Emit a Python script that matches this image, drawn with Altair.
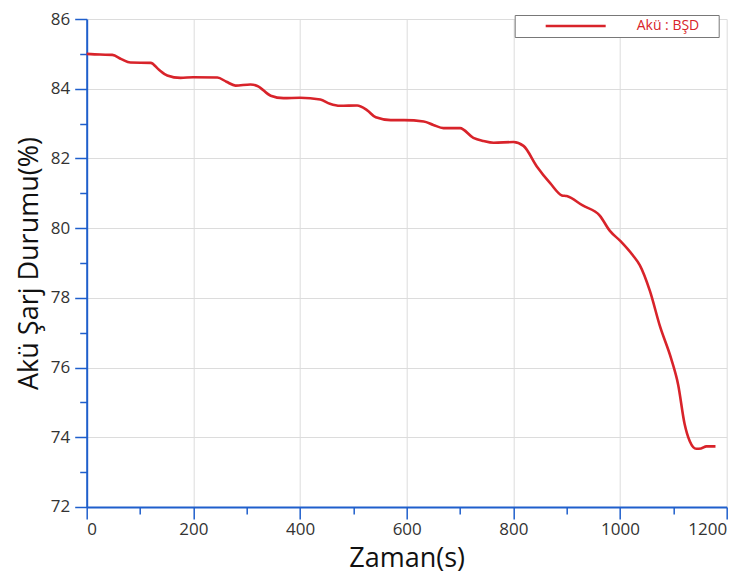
import altair as alt
import pandas as pd

# Time (s) and battery state of charge (%)
time_s = [0, 25, 48, 65, 82, 120, 135, 151, 176, 200, 245, 262, 279, 307, 320,
          345, 369, 400, 438, 456, 475, 507, 526, 542, 570, 595, 632, 650, 669,
          700, 725, 744, 763, 800, 819, 844, 869, 891, 900, 930, 962, 981, 1000,
          1024, 1037, 1056, 1075, 1096, 1109, 1121, 1131, 1143, 1152, 1162, 1179]
soc = [85.0, 84.98, 84.97, 84.85, 84.75, 84.74, 84.55, 84.38, 84.31, 84.33,
       84.32, 84.2, 84.09, 84.12, 84.08, 83.8, 83.73, 83.74, 83.69, 83.57,
       83.51, 83.52, 83.38, 83.18, 83.10, 83.10, 83.06, 82.96, 82.87, 82.87,
       82.59, 82.50, 82.45, 82.47, 82.36, 81.77, 81.29, 80.94, 80.92, 80.65,
       80.36, 79.92, 79.64, 79.22, 78.94, 78.2, 77.18, 76.25, 75.51, 74.39,
       73.88, 73.67, 73.68, 73.74, 73.74]
series_name = "Akü : BŞD"

x_ticks = list(range(0, 1201, 100))
y_ticks = list(range(72, 87))

df = pd.DataFrame({"t": time_s, "soc": soc, "series": [series_name] * len(time_s)})

AXIS_BLUE = "#1f5fcc"
GRID = "#dcdcdc"
RED = "#d8232a"

x_axis = alt.Axis(
    title="Zaman(s)",
    values=x_ticks,
    format="d",
    labelExpr="datum.value % 200 === 0 ? datum.label : ''",
    tickSize={"condition": {"test": "datum.value % 200 === 0", "value": 12}, "value": 7},
    gridOpacity={"condition": {"test": "datum.value % 200 === 0", "value": 1}, "value": 0},
    labelPadding=3,
    titlePadding=8,
)
y_axis = alt.Axis(
    title="Akü Şarj Durumu(%)",
    values=y_ticks,
    format="d",
    labelExpr="datum.value % 2 === 0 ? datum.label : ''",
    tickSize={"condition": {"test": "datum.value % 2 === 0", "value": 12}, "value": 7},
    gridOpacity={"condition": {"test": "datum.value % 2 === 0", "value": 1}, "value": 0},
    labelPadding=5,
    titlePadding=7,
)

chart = alt.Chart(df).mark_line(strokeWidth=2.6, interpolate="monotone").encode(
    x=alt.X("t:Q", scale=alt.Scale(domain=[0, 1200], nice=False, zero=False), axis=x_axis),
    y=alt.Y("soc:Q", scale=alt.Scale(domain=[72, 86], nice=False, zero=False), axis=y_axis),
    color=alt.Color(
        "series:N",
        scale=alt.Scale(range=[RED]),
        legend=alt.Legend(
            title=None,
            orient="none",
            legendX=428,
            legendY=-4,
            symbolType="M-6,0H6",
            symbolSize=100,
            symbolStrokeWidth=2.5,
            symbolOffset=50,
            labelOffset=54,
            labelFontSize=14,
            labelColor=RED,
            labelExpr="datum.label + '" + "\u00a0" * 4 + "\u200b'",
            padding=4,
            strokeColor="#777777",
            fillColor="white",
        ),
    ),
).properties(
    width=640,
    height=488,
    autosize=alt.AutoSizeParams(type="none"),
    padding={"left": 78.7, "top": 11, "right": 13, "bottom": 68},
).configure(
    font="Open Sans",
    background="white",
).configure_view(
    stroke=None,
).configure_axis(
    domainColor=AXIS_BLUE,
    domainWidth=2,
    tickColor=AXIS_BLUE,
    tickWidth=1.5,
    gridColor=GRID,
    gridWidth=1,
    labelFontSize=17,
    labelColor="#333333",
    labelFont="Open Sans",
    titleFontSize=27,
    titleFontWeight="normal",
    titleColor="#111111",
    titleFont="Open Sans",
)

chart.save("out.html", embed_options={"renderer": "svg", "actions": False})
